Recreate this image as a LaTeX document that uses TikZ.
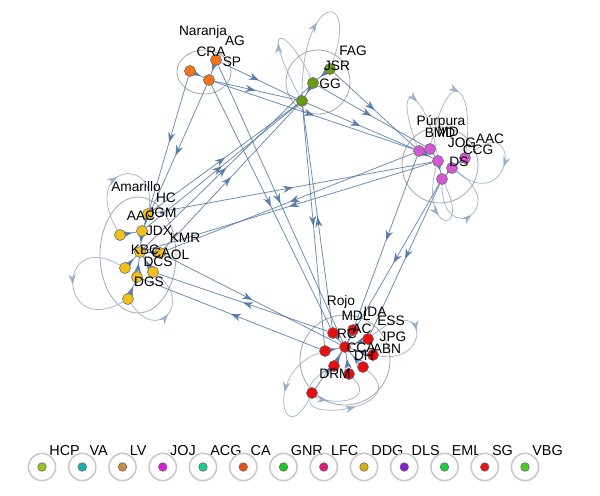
\documentclass[tikz,border=0pt]{standalone}
\usepackage{fontspec}
\setmainfont{Liberation Sans}
\usetikzlibrary{arrows.meta,decorations.markings,backgrounds}

\definecolor{edgeblue}{RGB}{74,112,160}
\definecolor{naranja}{RGB}{240,116,28}
\definecolor{verde}{RGB}{106,154,20}
\definecolor{purpura}{RGB}{212,88,212}
\definecolor{amarillo}{RGB}{242,192,26}
\definecolor{rojo}{RGB}{228,16,16}
% legend colours
\definecolor{hcp}{RGB}{150,196,30}
\definecolor{va}{RGB}{26,174,180}
\definecolor{lv}{RGB}{200,140,70}
\definecolor{joj}{RGB}{214,28,214}
\definecolor{acg}{RGB}{30,204,142}
\definecolor{ca}{RGB}{232,82,26}
\definecolor{gnr}{RGB}{28,200,42}
\definecolor{lfc}{RGB}{224,24,122}
\definecolor{ddg}{RGB}{216,174,20}
\definecolor{dls}{RGB}{138,30,212}
\definecolor{eml}{RGB}{30,204,60}
\definecolor{sg}{RGB}{232,20,28}
\definecolor{vbg}{RGB}{76,200,35}

\tikzset{
  vtx/.style={circle,draw=black!60,line width=0.3pt,inner sep=0pt,minimum size=6.3pt},
  grp/.style={draw=black!35,line width=0.45pt},
  edge/.style={draw=edgeblue,line width=0.45pt,opacity=0.8,postaction={decorate},
    decoration={markings,mark=at position #1 with {\arrow{Stealth[length=5.8pt,width=4.2pt]}}}},
  edge/.default=0.5,
  selfedge/.style={edge,draw=edgeblue!65,opacity=0.75},
  tag/.style={font=\fontsize{7.8}{9}\selectfont,inner sep=0pt},
  keyring/.style={circle,draw=black!22,line width=0.85pt,inner sep=0pt,minimum size=15.5pt},
}

\begin{document}
\begin{tikzpicture}[x=0.02cm,y=-0.02cm]
\useasboundingbox (0,0) rectangle (600,495);

% Naranja
\foreach \n/\x/\y in {n1/190/71, n2/216/60, n3/209/80}
    \node[vtx,fill=naranja] (\n) at (\x,\y) {};
% Verde
\foreach \n/\x/\y in {v1/330/69, v2/313/83, v3/302/101}
    \node[vtx,fill=verde] (\n) at (\x,\y) {};
% Purpura
\foreach \n/\x/\y in {p1/419/151, p2/430/149, p3/438/161, p4/452/168, p5/465/158, p6/442/179}
    \node[vtx,fill=purpura] (\n) at (\x,\y) {};
% Amarillo
\foreach \n/\x/\y in {a1/148/214, a2/142/231, a3/120/235, a4/140/252, a5/160/253,
                      a6/125/268, a7/153/272, a8/137/277, a9/128/299}
    \node[vtx,fill=amarillo] (\n) at (\x,\y) {};
% Rojo
\foreach \n/\x/\y in {r1/333/333, r2/353/330, r3/368/339, r4/345/347, r5/325/351,
                      r6/373/355, r7/334/366, r8/363/367, r9/349/374, r10/312/393}
    \node[vtx,fill=rojo] (\n) at (\x,\y) {};

\begin{scope}[on background layer]
% group outlines
\draw[grp] (n1) ++(14,1) ellipse (27 and 22);
\draw[grp] (v2) ++(5,-1) circle (32);
\draw[grp] (p3) ++(2,4) circle (38);
\draw[grp] (a4) ++(-2,3) ellipse (38 and 58);
\draw[grp] (r4) ++(0,13) circle (45);

% edges between groups
\foreach \a/\b in {n3/v3, n2/v3, n3/p1, n1/a1, n3/a2, n3/r1, n2/r4,
                   a1/v3, a2/v3, a5/v3, a4/v2, v1/p1, v2/p2, v3/p1,
                   p1/a5, p3/a4, a1/p3, p1/r2, p6/r3,
                   a5/r4, r1/a7, r5/a8, v3/r5, r1/v3, p6/r4}
    \draw[edge] (\a) -- (\b);

% edges inside groups
\foreach \a/\b in {n1/n3, n2/n3, v1/v2, v2/v3, p1/p3, p2/p3, p3/p6, p4/p6, p5/p4,
                   a1/a2, a2/a4, a3/a2, a6/a4, a8/a4, a9/a8, a7/a4, a5/a4,
                   r1/r4, r2/r4, r3/r4, r5/r4, r6/r4, r7/r4, r8/r4, r9/r4, r10/r4}
    \draw[edge=0.6] (\a) -- (\b);

% loops
\draw[selfedge] (v3) .. controls +(-45,-85) and +(-25,-55) .. (v2);
\draw[selfedge] (v3) .. controls +(0,-110) and +(30,-80) .. (v1);
\draw[selfedge] (p1) .. controls +(-30,-80) and +(-10,-70) .. (p3);
\draw[selfedge] (p2) .. controls +(20,-90) and +(10,-70) .. (p5);
\draw[selfedge] (p5) .. controls +(60,-50) and +(60,50) .. (p4);
\draw[selfedge] (p6) .. controls +(0,70) and +(60,40) .. (p4);
\draw[selfedge] (p3) .. controls +(-20,70) and +(30,60) .. (p6);
\draw[selfedge] (a6) .. controls +(-70,-40) and +(-70,40) .. (a9);
\draw[selfedge] (a3) .. controls +(-40,-70) and +(10,-60) .. (a1);
\draw[selfedge] (a9) .. controls +(30,45) and +(40,30) .. (a7);
\draw[selfedge] (r3) .. controls +(60,-50) and +(60,10) .. (r6);
\draw[selfedge] (r5) .. controls +(-60,20) and +(-30,60) .. (r10);
\draw[selfedge] (r7) .. controls +(-70,40) and +(40,40) .. (r9);
\draw[selfedge] (r10) .. controls +(-10,30) and +(50,40) .. (r8);
\end{scope}

% labels
\foreach \n/\x/\y/\t in {tNar/203/32/Naranja, tAG/235/41/AG, tCRA/211/52/CRA, tSP/232/62/SP,
                         tFAG/353/51/FAG, tJSR/337/66/JSR, tGG/330/84/GG,
                         tPur/441/122/P\'urpura, tBMD/440/133/BMD, tMD/448/132/MD,
                         tJOG/462/143/JOG, tAAC/490/139/AAC, tCCG/478/150/CCG, tDS/459/162/DS,
                         tAma/136/187/Amarillo, tHC/166/198/HC, tJGM/162/213/JGM,
                         tAAC2/141/216/AAC, tJDX/159/231/JDX, tKMR/185/238/KMR,
                         tKBC/145/250/KBC, tCA/161/253/CA, tOL/180/255/OL,
                         tDCS/158/262/DCS, tDGS/149/282/DGS,
                         tRojo/341/302/Rojo, tMDL/356/316/MDL, tIDA/375/312/IDA,
                         tESS/391/321/ESS, tRC/347/334/RC, tAC/362/329/AC,
                         tJPG/393/337/JPG, tCCA/361/348/CCA, tABN/387/349/ABN,
                         tDH/364/356/DH, tDRM/335/374/DRM}
    \node[tag] (\n) at (\x,\y) {\t};

% legend
\foreach \name/\col [count=\i from 0] in {HCP/hcp, VA/va, LV/lv, JOJ/joj, ACG/acg, CA/ca, GNR/gnr,
                                          LFC/lfc, DDG/ddg, DLS/dls, EML/eml, SG/sg, VBG/vbg} {
    \node[keyring] (ring\name) at (42+40.25*\i,467) {};
    \node[vtx,fill=\col,minimum size=4.9pt] (key\name) at (ring\name) {};
    \node[tag,font=\fontsize{8.2}{9}\selectfont,anchor=base west] (keytag\name) at (49+40.25*\i,455) {\name};
}
\end{tikzpicture}
\end{document}
